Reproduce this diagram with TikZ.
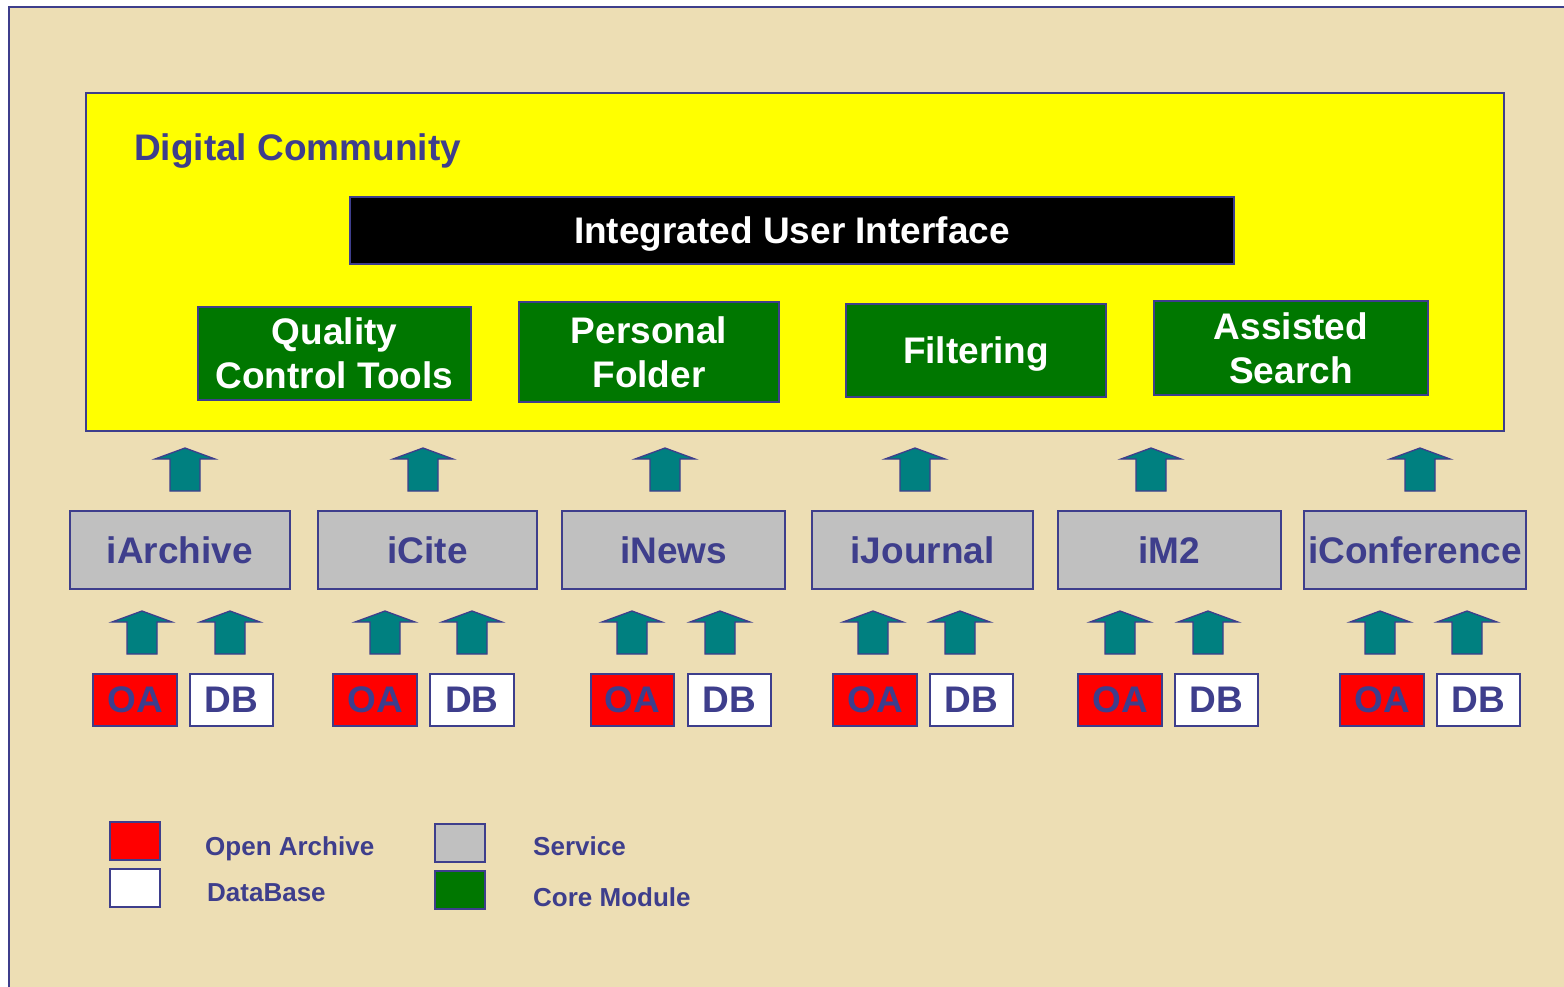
\documentclass[tikz,border=0pt]{standalone}
\usepackage{fontspec}
\setmainfont{Liberation Sans}
\definecolor{navy}{RGB}{62,62,140}
\definecolor{parch}{RGB}{237,222,180}
\definecolor{cgreen}{RGB}{0,119,0}
\definecolor{tealfill}{RGB}{0,128,128}
\definecolor{yel}{RGB}{255,255,0}
\definecolor{svgray}{RGB}{192,192,192}
\newcommand\mybox[7]{\node[#6,minimum width={#4-#2},minimum height={#5-#3}] (#1) at ({(#2+#4)/2},{(#3+#5)/2}) {#7};}
\begin{document}
\begin{tikzpicture}[x=1pt,y=-1pt,
  box/.style={draw=navy,line width=1.6pt,inner sep=0pt,align=center,font=\bfseries\fontsize{37}{44}\selectfont},
  one/.style={text depth=0pt},
  yelbox/.style={box,fill=yel},
  blackbox/.style={box,one,fill=black,text=white},
  corebox/.style={box,fill=cgreen,text=white},
  servbox/.style={box,one,fill=svgray,text=navy},
  oabox/.style={box,one,fill=red,text=navy},
  dbbox/.style={box,one,fill=white,text=navy},
  legbox/.style={draw=navy,line width=1.6pt,inner sep=0pt},
  legtext/.style={anchor=west,inner sep=0pt,one,text=navy,font=\bfseries\fontsize{26}{30}\selectfont},
  uparr/.pic={\draw[navy,line width=1.3pt,fill=tealfill,line join=miter] (0,0) -- (30,11) -- (15,11) -- (15,43) -- (-15,43) -- (-15,11) -- (-30,11) -- cycle;}
]
\useasboundingbox (0,0) rectangle (1564,987);
\fill[white] (0,0) rectangle (1564,987);
\fill[parch] (9,7) rectangle (1564,987);
\draw[navy,line width=2pt] (9,987) -- (9,7) -- (1564,7);

% Digital community
\mybox{dc}{86}{93}{1504}{431}{yelbox}{}
\node[anchor=west,inner sep=0pt,one,text=navy,font=\bfseries\fontsize{37}{44}\selectfont] (dctitle) at (134,147) {Digital Community};
\mybox{iui}{350}{197}{1234}{264}{blackbox}{Integrated User Interface}
\mybox{qct}{198}{307}{471}{400}{corebox}{Quality\\Control Tools}
\mybox{pf}{519}{302}{779}{402}{corebox}{Personal\\Folder}
\mybox{filt}{846}{304}{1106}{397}{corebox,one}{Filtering}
\mybox{as}{1154}{301}{1428}{395}{corebox}{Assisted\\Search}

% top arrows
\foreach \cx in {185,423,665,915,1151,1420} \pic at (\cx,448) {uparr};

% services
\mybox{iarchive}{70}{511}{290}{589}{servbox}{iArchive}
\mybox{icite}{318}{511}{537}{589}{servbox}{iCite}
\mybox{inews}{562}{511}{785}{589}{servbox}{iNews}
\mybox{ijournal}{812}{511}{1033}{589}{servbox}{iJournal}
\mybox{im2}{1058}{511}{1281}{589}{servbox}{iM2}
\mybox{iconf}{1304}{511}{1526}{589}{servbox}{iConference}

% lower arrows
\foreach \cx in {142,230,385,472,632,720,873,960,1120,1208,1380,1467} \pic at (\cx,611) {uparr};

% OA / DB
\mybox{oa1}{93}{674}{177}{726}{oabox}{OA}
\mybox{db1}{190}{674}{273}{726}{dbbox}{DB}
\mybox{oa2}{333}{674}{417}{726}{oabox}{OA}
\mybox{db2}{430}{674}{514}{726}{dbbox}{DB}
\mybox{oa3}{591}{674}{674}{726}{oabox}{OA}
\mybox{db3}{688}{674}{771}{726}{dbbox}{DB}
\mybox{oa4}{833}{674}{917}{726}{oabox}{OA}
\mybox{db4}{930}{674}{1013}{726}{dbbox}{DB}
\mybox{oa5}{1078}{674}{1162}{726}{oabox}{OA}
\mybox{db5}{1175}{674}{1258}{726}{dbbox}{DB}
\mybox{oa6}{1340}{674}{1424}{726}{oabox}{OA}
\mybox{db6}{1437}{674}{1520}{726}{dbbox}{DB}

% legend
\mybox{lgred}{110}{822}{160}{860}{legbox,fill=red}{}
\mybox{lgwhite}{110}{869}{160}{907}{legbox,fill=white}{}
\mybox{lggray}{435}{824}{485}{862}{legbox,fill=svgray}{}
\mybox{lggreen}{435}{871}{485}{909}{legbox,fill=cgreen}{}
\node[legtext] (lt1) at (205,846) {Open Archive};
\node[legtext] (lt2) at (207,893) {DataBase};
\node[legtext] (lt3) at (533,846) {Service};
\node[legtext] (lt4) at (533,897) {Core Module};
\end{tikzpicture}
\end{document}
